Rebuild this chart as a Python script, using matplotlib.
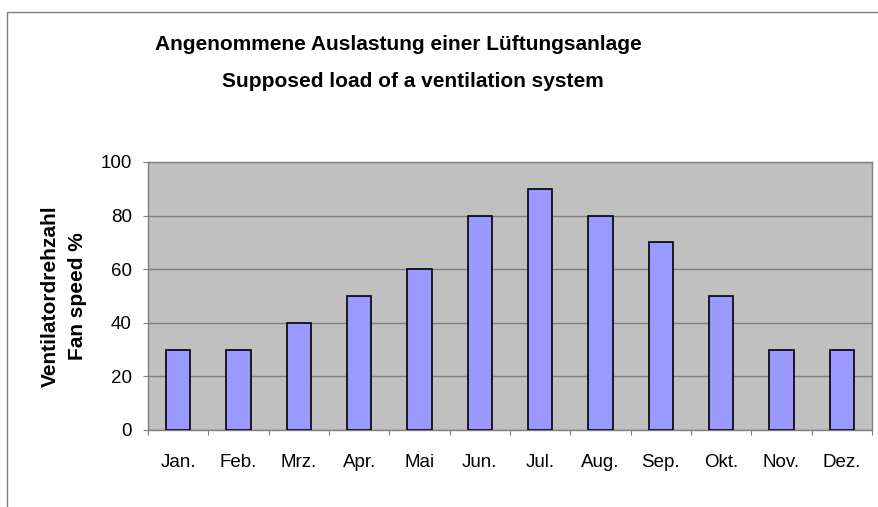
import matplotlib
matplotlib.use("Agg")
import matplotlib.pyplot as plt
from matplotlib.patches import Rectangle
import numpy as np

months = ["Jan.", "Feb.", "Mrz.", "Apr.", "Mai", "Jun.", "Jul.", "Aug.", "Sep.", "Okt.", "Nov.", "Dez."]
fan_speed = [30, 30, 40, 50, 60, 80, 90, 80, 70, 50, 30, 30]
yticks = [0, 20, 40, 60, 80, 100]

plt.rcParams['font.family'] = ['Liberation Sans', 'DejaVu Sans']

W, H = 879, 507
fig = plt.figure(figsize=(W/100, H/100), dpi=100)
fig.patch.set_facecolor('white')

# figure border
fig.patches.append(Rectangle((7/W, -0.01), 1.0, 1 - 12/H + 0.01, transform=fig.transFigure,
                             fill=False, edgecolor='#808080', linewidth=1.0))

ax = fig.add_axes([148/W, 1 - 430/H, (872-148)/W, (430-162)/H])
ax.set_facecolor('#C0C0C0')
x = np.arange(len(months))
ax.bar(x, fan_speed, width=0.4, color='#9999FF', edgecolor='black', linewidth=1.2, zorder=3)
ax.set_xlim(-0.5, len(months) - 0.5)
ax.set_ylim(0, 100)
ax.set_yticks(yticks)
ax.set_yticklabels([str(v) for v in yticks], fontsize=13.5)
ax.yaxis.grid(True, color='#808080', linewidth=1.0, zorder=1)
ax.set_xticks(np.arange(-0.5, len(months), 1.0))
ax.set_xticklabels([])
ax.set_xticks(x, minor=True)
ax.set_xticklabels(months, minor=True, fontsize=13.5)
ax.tick_params(axis='x', which='minor', length=0, pad=17.5)
ax.tick_params(axis='x', which='major', length=3.6, color='#808080', direction='out')
ax.tick_params(axis='y', length=3.6, color='#808080', direction='out', pad=8)
for s in ax.spines.values():
    s.set_color('#808080')
    s.set_linewidth(1.0)

ax.set_ylabel("Ventilatordrehzahl\nFan speed %", fontsize=15, fontweight='bold', labelpad=10,
              linespacing=1.55)

fig.text(398/W, 1 - 45/H, "Angenommene Auslastung einer Lüftungsanlage", ha='center', va='center',
         fontsize=15, fontweight='bold')
fig.text(413/W, 1 - 82/H, "Supposed load of a ventilation system", ha='center', va='center',
         fontsize=15, fontweight='bold')

fig.savefig("out.png", dpi=100, facecolor='white')
